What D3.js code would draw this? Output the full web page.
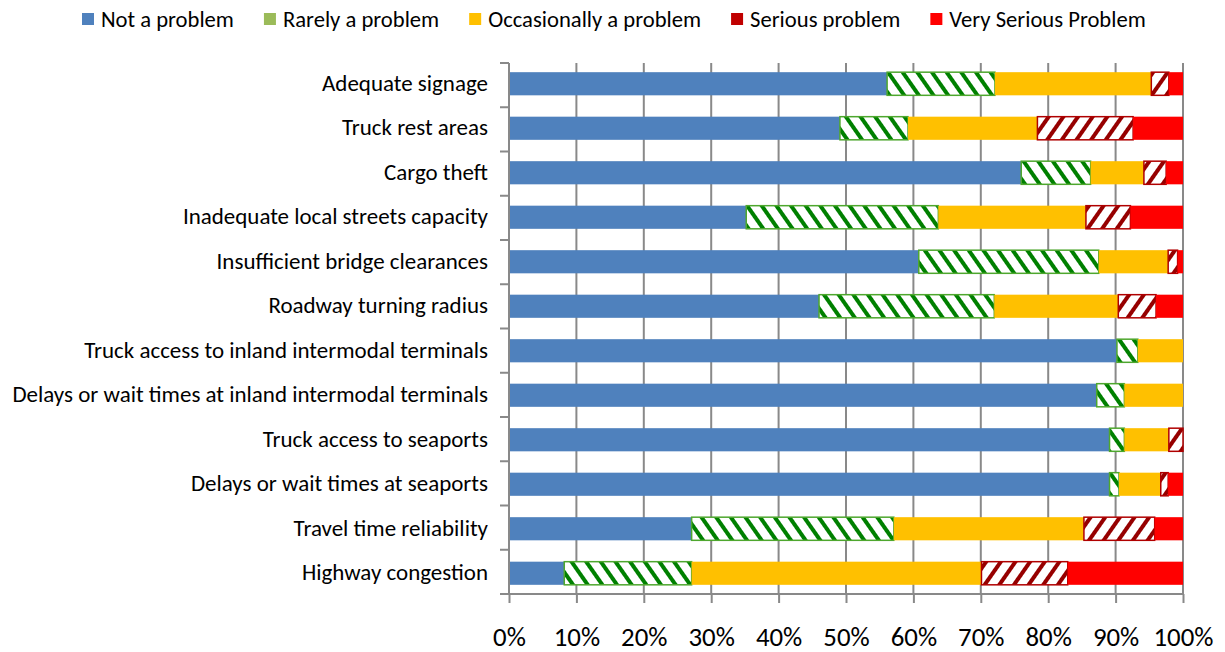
<!DOCTYPE html>
<meta charset="utf-8">
<head>
    <title>Freight problems</title>
    <script src="https://d3js.org/d3.v7.min.js"></script>
</head>
<style type="text/css">
body{
    margin: 0;
    background: #FFFFFF;
}
#chart text{
    font-family: Carlito, Calibri, Lato, sans-serif;
    fill: #000000;
}
</style>
<body>
    <svg id="chart" width="1225" height="652"></svg>

    <script type="text/javascript">
        // data (percent of responses)
        var categories = ["Adequate signage", "Truck rest areas", "Cargo theft",
            "Inadequate local streets capacity", "Insufficient bridge clearances",
            "Roadway turning radius", "Truck access to inland intermodal terminals",
            "Delays or wait times at inland intermodal terminals", "Truck access to seaports ",
            "Delays or wait times at seaports", "Travel time reliability", "Highway congestion"];
        var seriesNames = ["Not a problem", "Rarely a problem", "Occasionally a problem",
            "Serious problem", "Very Serious Problem"];
        var notProblem    = [56.1, 49.1, 76.0, 35.2, 60.8, 46.0, 90.2, 87.2, 89.1, 89.1, 27.1, 8.2];
        var rarely        = [16.0, 10.1, 10.3, 28.5, 26.7, 26.0, 3.1, 4.1, 2.2, 1.4, 30.0, 18.9];
        var occasionally  = [23.2, 19.2, 7.9, 21.9, 10.3, 18.4, 6.7, 8.7, 6.6, 6.2, 28.2, 43.0];
        var serious       = [2.6, 14.2, 3.3, 6.6, 1.4, 5.6, 0, 0, 2.1, 1.1, 10.5, 12.8];
        var verySerious   = [2.1, 7.4, 2.5, 7.8, 0.8, 4.0, 0, 0, 0, 2.2, 4.2, 17.1];
        var xTicks = [0, 10, 20, 30, 40, 50, 60, 70, 80, 90, 100];

        var svg = d3.select("#chart");
        var plotLeft = 509, plotRight = 1183, plotTop = 63, plotBottom = 594;
        var axisColor = "#898989";

        // patterns for hatched series
        var defs = svg.append("defs");
        function hatch(id, color, angle) {
            var p = defs.append("pattern")
                .attr("id", id)
                .attr("patternUnits", "userSpaceOnUse")
                .attr("width", 12).attr("height", 12)
                .attr("patternTransform", "rotate(" + angle + ")");
            p.append("rect").attr("width", 12).attr("height", 12).attr("fill", "#FFFFFF");
            p.append("rect").attr("width", 4).attr("height", 12).attr("fill", color);
        }
        hatch("hatchGreen", "#008000", -35);
        hatch("hatchRed", "#960000", 35);

        var fills = ["#4F81BD", "url(#hatchGreen)", "#FFC000", "url(#hatchRed)", "#FF0000"];
        var strokes = [null, "#4EA72E", null, "#B00000", null];
        var legendColors = ["#4F81BD", "#9BBB59", "#FFC000", "#C00000", "#FF0000"];

        var rows = categories.map(function(c, i) {
            return {cat: c, v: [notProblem[i], rarely[i], occasionally[i], serious[i], verySerious[i]]};
        });
        var stacked = d3.stack().keys(d3.range(5)).value(function(d, k) { return d.v[k]; })(rows);

        var x = d3.scaleLinear().domain([0, 100]).range([plotLeft, plotRight]);
        var y = d3.scaleBand().domain(categories).range([plotTop - 1.5, plotBottom + 1.5])
            .paddingInner(0.48).paddingOuter(0.24);

        // fit a font size so a string spans a given width
        function fitSize(str, width) {
            var t = svg.append("text").style("font-size", "20px").text(str);
            var w = t.node().getComputedTextLength();
            t.remove();
            return 20 * width / w;
        }
        var labelSize = fitSize("Delays or wait times at inland intermodal terminals", 476);
        var legendSize = fitSize("Not a problem", 133);
        var tickSize = fitSize("100%", 60);

        // gridlines
        svg.append("g").selectAll("line")
            .data(xTicks.slice(1))
            .enter().append("line")
            .attr("x1", function(d) { return x(d); })
            .attr("x2", function(d) { return x(d); })
            .attr("y1", plotTop).attr("y2", plotBottom)
            .attr("stroke", axisColor).attr("stroke-width", 2);

        // bars
        var layers = svg.append("g").selectAll("g")
            .data(stacked)
            .enter().append("g");
        layers.selectAll("rect")
            .data(function(d) { return d.map(function(e) { return {s: d.key, e: e}; }); })
            .enter().append("rect")
            .filter(function(d) { return d.e[1] - d.e[0] > 0; })
            .attr("x", function(d) { return x(d.e[0]); })
            .attr("width", function(d) { return x(d.e[1]) - x(d.e[0]); })
            .attr("y", function(d) { return y(d.e.data.cat); })
            .attr("height", y.bandwidth())
            .attr("fill", function(d) { return fills[d.s]; })
            .attr("stroke", function(d) { return strokes[d.s]; })
            .attr("stroke-width", function(d) { return strokes[d.s] ? 1.5 : 0; });

        // x axis
        var xAxis = svg.append("g").attr("transform", "translate(0," + plotBottom + ")")
            .call(d3.axisBottom(x).tickValues(xTicks).tickSize(9).tickSizeOuter(0)
                .tickFormat(function(d) { return d + "%"; }));
        xAxis.select(".domain").remove();
        xAxis.append("line").attr("x1", plotLeft - 9).attr("x2", plotRight + 1)
            .attr("stroke", axisColor).attr("stroke-width", 2);
        xAxis.selectAll(".tick line").attr("stroke", axisColor).attr("stroke-width", 2);
        xAxis.selectAll(".tick text")
            .attr("y", 52).attr("dy", 0)
            .attr("fill", "#000000")
            .style("font-size", tickSize + "px");

        // y axis
        var yAxis = svg.append("g");
        yAxis.append("line").attr("x1", plotLeft).attr("x2", plotLeft)
            .attr("y1", plotTop).attr("y2", plotBottom)
            .attr("stroke", axisColor).attr("stroke-width", 2);
        var bounds = d3.range(categories.length + 1).map(function(i) {
            return plotTop + i * (plotBottom - plotTop) / categories.length;
        });
        yAxis.selectAll(".ytick")
            .data(bounds)
            .enter().append("line")
            .attr("class", "ytick")
            .attr("x1", plotLeft - 9).attr("x2", plotLeft)
            .attr("y1", function(d) { return d; }).attr("y2", function(d) { return d; })
            .attr("stroke", axisColor).attr("stroke-width", 2);
        yAxis.selectAll("text")
            .data(categories)
            .enter().append("text")
            .attr("x", 488)
            .attr("y", function(d) { return y(d) + y.bandwidth() / 2 - 1; })
            .attr("dy", "0.35em")
            .attr("text-anchor", "end")
            .style("font-size", labelSize + "px")
            .text(function(d) { return d; });

        // legend
        var legend = svg.append("g");
        var lx = 82;
        seriesNames.forEach(function(name, i) {
            legend.append("rect")
                .attr("x", lx).attr("y", 13)
                .attr("width", 12).attr("height", 12)
                .attr("fill", legendColors[i]);
            var t = legend.append("text")
                .attr("x", lx + 19).attr("y", 19)
                .attr("dy", "0.35em")
                .style("font-size", legendSize + "px")
                .text(name);
            lx += 19 + t.node().getComputedTextLength() + 30;
        });
    </script>
</body>
